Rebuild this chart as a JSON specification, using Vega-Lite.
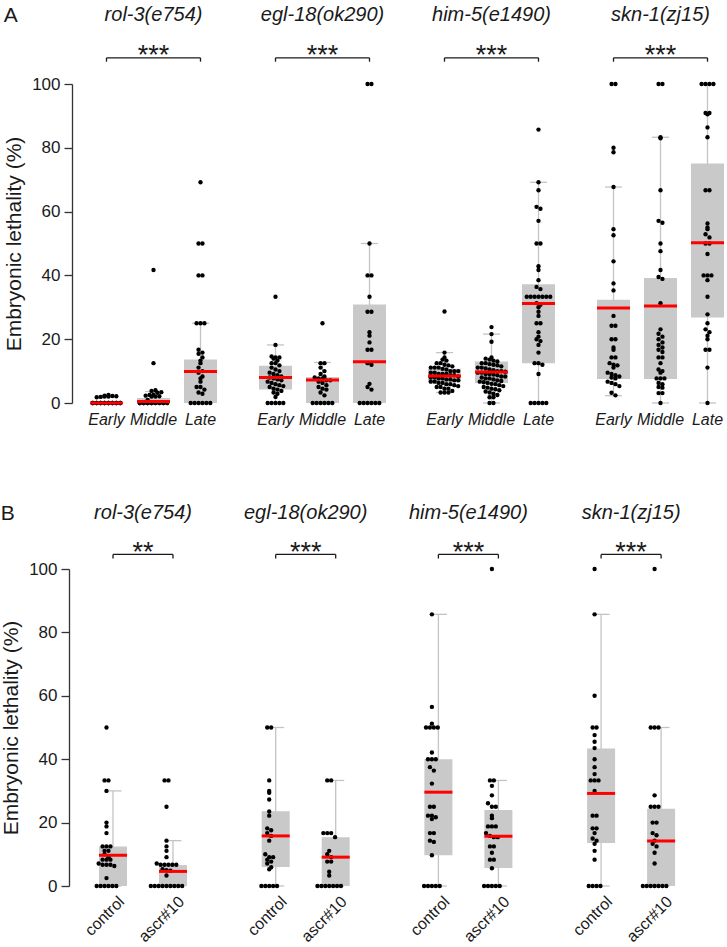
{
"$schema":"https://vega.github.io/schema/vega-lite/v6.json",
"background":"white",
"padding":{"left":0,"top":4,"right":0,"bottom":0},
"spacing":76,
"config":{"font":"Liberation Sans","view":{"stroke":null},"tick":{"opacity":1},
"axisX":{"domain":false,"ticks":false,"labelFontSize":16,"labelPadding":5,"labelColor":"#1a1a1a","grid":false},
"axisY":{"grid":false,"tickSize":8,"labelFontSize":17,"titleFontSize":21,"titleFontWeight":"normal","titlePadding":7,"domainColor":"#333","tickColor":"#333","labelColor":"#1a1a1a","titleColor":"#1a1a1a","labelPadding":4,"domainWidth":1.3,"tickWidth":1.3}},
"vconcat":[
{"data":{"name":"A"},
"title":{"text":"A","anchor":"start","frame":"bounds","fontSize":21,"fontWeight":"normal","baseline":"top","offset":-21,"color":"#1a1a1a"},
"facet":{"column":{"field":"g","sort":["r","e","h","s"],"title":null,"header":{"labels":false}}},
"spacing":28,
"spec":{"width":141,"height":319,"layer":[
{"transform":[{"filter":"isValid(datum.q1)"}],"mark":{"type":"rule","color":"#c4c4c4","strokeWidth":1.3},
"encoding":{"x":{"field":"c","type":"nominal","scale":{"domain":["Early","Middle","Late"],"paddingInner":0,"paddingOuter":0},"axis":{"title":null,"labelFontStyle":"italic","labelAngle":0}},
"y":{"field":"lo","type":"quantitative","scale":{"domain":[0,100],"nice":false},"axis":{"title":"Embryonic lethality (%)","values":[0,20,40,60,80,100],"offset":11}},"y2":{"field":"hi"}}},
{"transform":[{"filter":"isValid(datum.q1)"}],"mark":{"type":"tick","color":"#c4c4c4","size":17,"thickness":1.3,"orient":"horizontal","opacity":1},
"encoding":{"x":{"field":"c","type":"nominal","scale":{"domain":["Early","Middle","Late"],"paddingInner":0,"paddingOuter":0},"axis":{"title":null,"labelFontStyle":"italic","labelAngle":0}},
"y":{"field":"lo","type":"quantitative","scale":{"domain":[0,100],"nice":false},"axis":{"title":"Embryonic lethality (%)","values":[0,20,40,60,80,100],"offset":11}}}},
{"transform":[{"filter":"isValid(datum.q1)"}],"mark":{"type":"tick","color":"#c4c4c4","size":17,"thickness":1.3,"orient":"horizontal","opacity":1},
"encoding":{"x":{"field":"c","type":"nominal","scale":{"domain":["Early","Middle","Late"],"paddingInner":0,"paddingOuter":0},"axis":{"title":null,"labelFontStyle":"italic","labelAngle":0}},
"y":{"field":"hi","type":"quantitative","scale":{"domain":[0,100],"nice":false},"axis":{"title":"Embryonic lethality (%)","values":[0,20,40,60,80,100],"offset":11}}}},
{"transform":[{"filter":"isValid(datum.q1)"}],"mark":{"type":"bar","color":"#c9c9c9","width":33},
"encoding":{"x":{"field":"c","type":"nominal","scale":{"domain":["Early","Middle","Late"],"paddingInner":0,"paddingOuter":0},"axis":{"title":null,"labelFontStyle":"italic","labelAngle":0}},
"y":{"field":"q1","type":"quantitative","scale":{"domain":[0,100],"nice":false},"axis":{"title":"Embryonic lethality (%)","values":[0,20,40,60,80,100],"offset":11}},"y2":{"field":"q3"}}},
{"transform":[{"filter":"isValid(datum.v)"},{"bin":{"step":1.5,"anchor":-0.75},"field":"v","as":"vb"},{"window":[{"op":"row_number","as":"k"}],"groupby":["g","c","vb"]},{"joinaggregate":[{"op":"count","as":"n"}],"groupby":["g","c","vb"]},{"calculate":"datum.n <= 8 ? datum.k - (datum.n + 1) / 2 : ((datum.k - 1) % 8) - 3.5","as":"off"}],
"mark":{"type":"circle","color":"black","size":19,"opacity":1},
"encoding":{"x":{"field":"c","type":"nominal","scale":{"domain":["Early","Middle","Late"],"paddingInner":0,"paddingOuter":0},"axis":{"title":null,"labelFontStyle":"italic","labelAngle":0}},
"xOffset":{"field":"off","type":"quantitative","scale":{"domain":[-4.7,4.7]}},
"y":{"field":"v","type":"quantitative","scale":{"domain":[0,100],"nice":false},"axis":{"title":"Embryonic lethality (%)","values":[0,20,40,60,80,100],"offset":11}}}},
{"transform":[{"filter":"isValid(datum.q1)"}],"mark":{"type":"tick","color":"#ff0000","size":33,"thickness":3,"orient":"horizontal","opacity":1},
"encoding":{"x":{"field":"c","type":"nominal","scale":{"domain":["Early","Middle","Late"],"paddingInner":0,"paddingOuter":0},"axis":{"title":null,"labelFontStyle":"italic","labelAngle":0}},
"y":{"field":"mid","type":"quantitative","scale":{"domain":[0,100],"nice":false},"axis":{"title":"Embryonic lethality (%)","values":[0,20,40,60,80,100],"offset":11}}}},
{"transform":[{"filter":"isValid(datum.name)"}],"mark":{"type":"rule","color":"#1a1a1a","strokeWidth":1.3},
"encoding":{"x":{"datum":"Early","type":"nominal","scale":{"domain":["Early","Middle","Late"],"paddingInner":0,"paddingOuter":0}},"x2":{"datum":"Late"},"y":{"datum":108.2,"type":"quantitative","scale":{"domain":[0,100],"nice":false}}}},
{"transform":[{"filter":"isValid(datum.name)"}],"mark":{"type":"rule","color":"#1a1a1a","strokeWidth":1.3},
"encoding":{"x":{"datum":"Early","type":"nominal","scale":{"domain":["Early","Middle","Late"],"paddingInner":0,"paddingOuter":0}},"y":{"datum":108.2,"type":"quantitative","scale":{"domain":[0,100],"nice":false}},"y2":{"datum":107}}},
{"transform":[{"filter":"isValid(datum.name)"}],"mark":{"type":"rule","color":"#1a1a1a","strokeWidth":1.3},
"encoding":{"x":{"datum":"Late","type":"nominal","scale":{"domain":["Early","Middle","Late"],"paddingInner":0,"paddingOuter":0}},"y":{"datum":108.2,"type":"quantitative","scale":{"domain":[0,100],"nice":false}},"y2":{"datum":107}}},
{"transform":[{"filter":"isValid(datum.name)"}],"mark":{"type":"text","fontSize":27,"baseline":"alphabetic","color":"#1a1a1a"},
"encoding":{"x":{"datum":"Middle","type":"nominal","scale":{"domain":["Early","Middle","Late"],"paddingInner":0,"paddingOuter":0}},"y":{"datum":106.2,"type":"quantitative","scale":{"domain":[0,100],"nice":false}},"text":{"field":"stars"}}},
{"transform":[{"filter":"isValid(datum.name)"}],"mark":{"type":"text","fontSize":20,"fontStyle":"italic","baseline":"middle","color":"#1a1a1a"},
"encoding":{"x":{"datum":"Middle","type":"nominal","scale":{"domain":["Early","Middle","Late"],"paddingInner":0,"paddingOuter":0}},"y":{"datum":121.7,"type":"quantitative","scale":{"domain":[0,100],"nice":false}},"text":{"field":"name"}}}
]}},
{"data":{"name":"B"},
"title":{"text":"B","anchor":"start","frame":"bounds","fontSize":21,"fontWeight":"normal","baseline":"top","offset":-21,"color":"#1a1a1a"},
"facet":{"column":{"field":"g","sort":["r","e","h","s"],"title":null,"header":{"labels":false}}},
"spacing":38.7,
"spec":{"width":120,"height":317,"layer":[
{"transform":[{"filter":"isValid(datum.q1)"}],"mark":{"type":"rule","color":"#c4c4c4","strokeWidth":1.3},
"encoding":{"x":{"field":"c","type":"nominal","scale":{"domain":["control","ascr#10"],"paddingInner":0,"paddingOuter":0},"axis":{"title":null,"labelAngle":-45,"labelFontSize":16,"labelOffset":3,"labelPadding":4}},
"y":{"field":"lo","type":"quantitative","scale":{"domain":[0,100],"nice":false},"axis":{"title":"Embryonic lethality (%)","values":[0,20,40,60,80,100],"offset":14}},"y2":{"field":"hi"}}},
{"transform":[{"filter":"isValid(datum.q1)"}],"mark":{"type":"tick","color":"#c4c4c4","size":17,"thickness":1.3,"orient":"horizontal","opacity":1},
"encoding":{"x":{"field":"c","type":"nominal","scale":{"domain":["control","ascr#10"],"paddingInner":0,"paddingOuter":0},"axis":{"title":null,"labelAngle":-45,"labelFontSize":16,"labelOffset":3,"labelPadding":4}},
"y":{"field":"lo","type":"quantitative","scale":{"domain":[0,100],"nice":false},"axis":{"title":"Embryonic lethality (%)","values":[0,20,40,60,80,100],"offset":14}}}},
{"transform":[{"filter":"isValid(datum.q1)"}],"mark":{"type":"tick","color":"#c4c4c4","size":17,"thickness":1.3,"orient":"horizontal","opacity":1},
"encoding":{"x":{"field":"c","type":"nominal","scale":{"domain":["control","ascr#10"],"paddingInner":0,"paddingOuter":0},"axis":{"title":null,"labelAngle":-45,"labelFontSize":16,"labelOffset":3,"labelPadding":4}},
"y":{"field":"hi","type":"quantitative","scale":{"domain":[0,100],"nice":false},"axis":{"title":"Embryonic lethality (%)","values":[0,20,40,60,80,100],"offset":14}}}},
{"transform":[{"filter":"isValid(datum.q1)"}],"mark":{"type":"bar","color":"#c9c9c9","width":28},
"encoding":{"x":{"field":"c","type":"nominal","scale":{"domain":["control","ascr#10"],"paddingInner":0,"paddingOuter":0},"axis":{"title":null,"labelAngle":-45,"labelFontSize":16,"labelOffset":3,"labelPadding":4}},
"y":{"field":"q1","type":"quantitative","scale":{"domain":[0,100],"nice":false},"axis":{"title":"Embryonic lethality (%)","values":[0,20,40,60,80,100],"offset":14}},"y2":{"field":"q3"}}},
{"transform":[{"filter":"isValid(datum.v)"},{"bin":{"step":1.6,"anchor":-0.8},"field":"v","as":"vb"},{"window":[{"op":"row_number","as":"k"}],"groupby":["g","c","vb"]},{"joinaggregate":[{"op":"count","as":"n"}],"groupby":["g","c","vb"]},{"calculate":"datum.n <= 10 ? datum.k - (datum.n + 1) / 2 : ((datum.k - 1) % 10) - 4.5","as":"off"}],
"mark":{"type":"circle","color":"black","size":19,"opacity":1},
"encoding":{"x":{"field":"c","type":"nominal","scale":{"domain":["control","ascr#10"],"paddingInner":0,"paddingOuter":0},"axis":{"title":null,"labelAngle":-45,"labelFontSize":16,"labelOffset":3,"labelPadding":4}},
"xOffset":{"field":"off","type":"quantitative","scale":{"domain":[-6,6]}},
"y":{"field":"v","type":"quantitative","scale":{"domain":[0,100],"nice":false},"axis":{"title":"Embryonic lethality (%)","values":[0,20,40,60,80,100],"offset":14}}}},
{"transform":[{"filter":"isValid(datum.q1)"}],"mark":{"type":"tick","color":"#ff0000","size":28,"thickness":3,"orient":"horizontal","opacity":1},
"encoding":{"x":{"field":"c","type":"nominal","scale":{"domain":["control","ascr#10"],"paddingInner":0,"paddingOuter":0},"axis":{"title":null,"labelAngle":-45,"labelFontSize":16,"labelOffset":3,"labelPadding":4}},
"y":{"field":"mid","type":"quantitative","scale":{"domain":[0,100],"nice":false},"axis":{"title":"Embryonic lethality (%)","values":[0,20,40,60,80,100],"offset":14}}}},
{"transform":[{"filter":"isValid(datum.name)"}],"mark":{"type":"rule","color":"#1a1a1a","strokeWidth":1.3},
"encoding":{"x":{"datum":"control","type":"nominal","scale":{"domain":["control","ascr#10"],"paddingInner":0,"paddingOuter":0}},"x2":{"datum":"ascr#10"},"y":{"datum":104.6,"type":"quantitative","scale":{"domain":[0,100],"nice":false}}}},
{"transform":[{"filter":"isValid(datum.name)"}],"mark":{"type":"rule","color":"#1a1a1a","strokeWidth":1.3},
"encoding":{"x":{"datum":"control","type":"nominal","scale":{"domain":["control","ascr#10"],"paddingInner":0,"paddingOuter":0}},"y":{"datum":104.6,"type":"quantitative","scale":{"domain":[0,100],"nice":false}},"y2":{"datum":103.3}}},
{"transform":[{"filter":"isValid(datum.name)"}],"mark":{"type":"rule","color":"#1a1a1a","strokeWidth":1.3},
"encoding":{"x":{"datum":"ascr#10","type":"nominal","scale":{"domain":["control","ascr#10"],"paddingInner":0,"paddingOuter":0}},"y":{"datum":104.6,"type":"quantitative","scale":{"domain":[0,100],"nice":false}},"y2":{"datum":103.3}}},
{"transform":[{"filter":"isValid(datum.name)"}],"mark":{"type":"text","fontSize":27,"baseline":"alphabetic","color":"#1a1a1a"},
"encoding":{"x":{"datum":"control","type":"nominal","bandPosition":1,"scale":{"domain":["control","ascr#10"],"paddingInner":0,"paddingOuter":0}},"y":{"datum":102.6,"type":"quantitative","scale":{"domain":[0,100],"nice":false}},"text":{"field":"stars"}}},
{"transform":[{"filter":"isValid(datum.name)"}],"mark":{"type":"text","fontSize":20,"fontStyle":"italic","baseline":"middle","color":"#1a1a1a"},
"encoding":{"x":{"datum":"control","type":"nominal","bandPosition":1,"scale":{"domain":["control","ascr#10"],"paddingInner":0,"paddingOuter":0}},"y":{"datum":117.6,"type":"quantitative","scale":{"domain":[0,100],"nice":false}},"text":{"field":"name"}}}
]}}
],
"datasets":{
"A":[
{"g":"r","name":"rol-3(e754)","stars":"***"},{"g":"e","name":"egl-18(ok290)","stars":"***"},{"g":"h","name":"him-5(e1490)","stars":"***"},{"g":"s","name":"skn-1(zj15)","stars":"***"},
{"g":"r","c":"Early","q1":0,"mid":0,"q3":0.3,"lo":0,"hi":0},
{"g":"r","c":"Middle","q1":0,"mid":0.5,"q3":1.6,"lo":0,"hi":3.6},
{"g":"r","c":"Late","q1":0,"mid":9.9,"q3":13.6,"lo":0,"hi":25},
{"g":"e","c":"Early","q1":4.2,"mid":8.0,"q3":11.7,"lo":0,"hi":18.2},
{"g":"e","c":"Middle","q1":0,"mid":7.2,"q3":8.15,"lo":0,"hi":12.7},
{"g":"e","c":"Late","q1":0,"mid":12.9,"q3":30.9,"lo":0,"hi":50},
{"g":"h","c":"Early","q1":6.5,"mid":8.5,"q3":10.7,"lo":3.3,"hi":15.8},
{"g":"h","c":"Middle","q1":6.3,"mid":9.7,"q3":13.0,"lo":0,"hi":21.6},
{"g":"h","c":"Late","q1":12.5,"mid":31.2,"q3":37.2,"lo":0,"hi":69.2},
{"g":"s","c":"Early","q1":7.5,"mid":29.8,"q3":32.4,"lo":2.3,"hi":67.7},
{"g":"s","c":"Middle","q1":7.5,"mid":30.4,"q3":39.2,"lo":0,"hi":83.3},
{"g":"s","c":"Late","q1":26.8,"mid":50.2,"q3":75.1,"lo":0,"hi":100},
{"g":"r","c":"Early","v":0},{"g":"r","c":"Early","v":0},{"g":"r","c":"Early","v":0},{"g":"r","c":"Early","v":0},{"g":"r","c":"Early","v":0},{"g":"r","c":"Early","v":0},{"g":"r","c":"Early","v":0},{"g":"r","c":"Early","v":0},{"g":"r","c":"Early","v":0},{"g":"r","c":"Early","v":0},{"g":"r","c":"Early","v":0},{"g":"r","c":"Early","v":0},{"g":"r","c":"Early","v":0},{"g":"r","c":"Early","v":0},{"g":"r","c":"Early","v":0},{"g":"r","c":"Early","v":0},{"g":"r","c":"Early","v":0},{"g":"r","c":"Early","v":0},{"g":"r","c":"Early","v":0},{"g":"r","c":"Early","v":0},{"g":"r","c":"Early","v":0},{"g":"r","c":"Early","v":0},{"g":"r","c":"Early","v":0},{"g":"r","c":"Early","v":0},
{"g":"r","c":"Early","v":1.8},{"g":"r","c":"Early","v":1.9},{"g":"r","c":"Early","v":2},{"g":"r","c":"Early","v":2},{"g":"r","c":"Early","v":2.2},{"g":"r","c":"Early","v":2.3},{"g":"r","c":"Early","v":2.5},{"g":"r","c":"Early","v":2.1},
{"g":"r","c":"Middle","v":0},{"g":"r","c":"Middle","v":0},{"g":"r","c":"Middle","v":0},{"g":"r","c":"Middle","v":0},{"g":"r","c":"Middle","v":0},{"g":"r","c":"Middle","v":0},{"g":"r","c":"Middle","v":0},{"g":"r","c":"Middle","v":0},{"g":"r","c":"Middle","v":0},{"g":"r","c":"Middle","v":0},{"g":"r","c":"Middle","v":0},{"g":"r","c":"Middle","v":0},{"g":"r","c":"Middle","v":0},{"g":"r","c":"Middle","v":0},{"g":"r","c":"Middle","v":0},{"g":"r","c":"Middle","v":0},{"g":"r","c":"Middle","v":0},{"g":"r","c":"Middle","v":0},{"g":"r","c":"Middle","v":0},{"g":"r","c":"Middle","v":0},
{"g":"r","c":"Middle","v":1},{"g":"r","c":"Middle","v":2},{"g":"r","c":"Middle","v":2},{"g":"r","c":"Middle","v":2.1},{"g":"r","c":"Middle","v":2.3},{"g":"r","c":"Middle","v":2.5},{"g":"r","c":"Middle","v":2.6},{"g":"r","c":"Middle","v":3.2},{"g":"r","c":"Middle","v":3.4},{"g":"r","c":"Middle","v":3.8},{"g":"r","c":"Middle","v":4},{"g":"r","c":"Middle","v":12.5},{"g":"r","c":"Middle","v":41.7},
{"g":"r","c":"Late","v":69.2},{"g":"r","c":"Late","v":50},{"g":"r","c":"Late","v":50},{"g":"r","c":"Late","v":40},{"g":"r","c":"Late","v":40},{"g":"r","c":"Late","v":25},{"g":"r","c":"Late","v":25},{"g":"r","c":"Late","v":25},{"g":"r","c":"Late","v":16.7},{"g":"r","c":"Late","v":15.8},{"g":"r","c":"Late","v":15.4},{"g":"r","c":"Late","v":14.3},{"g":"r","c":"Late","v":13.3},{"g":"r","c":"Late","v":12.5},{"g":"r","c":"Late","v":11.1},{"g":"r","c":"Late","v":10},{"g":"r","c":"Late","v":9.5},{"g":"r","c":"Late","v":8.3},{"g":"r","c":"Late","v":7.7},{"g":"r","c":"Late","v":6.7},{"g":"r","c":"Late","v":5},{"g":"r","c":"Late","v":5},{"g":"r","c":"Late","v":4.2},{"g":"r","c":"Late","v":3.3},{"g":"r","c":"Late","v":2.9},{"g":"r","c":"Late","v":0},{"g":"r","c":"Late","v":0},{"g":"r","c":"Late","v":0},{"g":"r","c":"Late","v":0},{"g":"r","c":"Late","v":0},{"g":"r","c":"Late","v":0},
{"g":"e","c":"Early","v":33.3},{"g":"e","c":"Early","v":18.2},{"g":"e","c":"Early","v":14.6},{"g":"e","c":"Early","v":14.3},{"g":"e","c":"Early","v":14.3},{"g":"e","c":"Early","v":13.9},{"g":"e","c":"Early","v":13.3},{"g":"e","c":"Early","v":12.5},{"g":"e","c":"Early","v":12.5},{"g":"e","c":"Early","v":11.8},{"g":"e","c":"Early","v":11.1},{"g":"e","c":"Early","v":10.5},{"g":"e","c":"Early","v":10},{"g":"e","c":"Early","v":9.5},{"g":"e","c":"Early","v":9.1},{"g":"e","c":"Early","v":8.7},{"g":"e","c":"Early","v":8.3},{"g":"e","c":"Early","v":8},{"g":"e","c":"Early","v":7.7},{"g":"e","c":"Early","v":7.4},{"g":"e","c":"Early","v":7.1},{"g":"e","c":"Early","v":6.7},{"g":"e","c":"Early","v":6.3},{"g":"e","c":"Early","v":5.9},{"g":"e","c":"Early","v":5.6},{"g":"e","c":"Early","v":5.3},{"g":"e","c":"Early","v":5},{"g":"e","c":"Early","v":4.5},{"g":"e","c":"Early","v":4.2},{"g":"e","c":"Early","v":3.8},{"g":"e","c":"Early","v":3.3},{"g":"e","c":"Early","v":2.9},{"g":"e","c":"Early","v":1.9},{"g":"e","c":"Early","v":0},{"g":"e","c":"Early","v":0},{"g":"e","c":"Early","v":0},{"g":"e","c":"Early","v":0},{"g":"e","c":"Early","v":0},
{"g":"e","c":"Middle","v":25},{"g":"e","c":"Middle","v":12.5},{"g":"e","c":"Middle","v":12.5},{"g":"e","c":"Middle","v":11.1},{"g":"e","c":"Middle","v":10},{"g":"e","c":"Middle","v":9.1},{"g":"e","c":"Middle","v":8.3},{"g":"e","c":"Middle","v":8},{"g":"e","c":"Middle","v":7.7},{"g":"e","c":"Middle","v":7.7},{"g":"e","c":"Middle","v":7.1},{"g":"e","c":"Middle","v":7.1},{"g":"e","c":"Middle","v":6.7},{"g":"e","c":"Middle","v":6.3},{"g":"e","c":"Middle","v":5.6},{"g":"e","c":"Middle","v":5},{"g":"e","c":"Middle","v":4.5},{"g":"e","c":"Middle","v":4.2},{"g":"e","c":"Middle","v":3.3},{"g":"e","c":"Middle","v":2.4},{"g":"e","c":"Middle","v":0},{"g":"e","c":"Middle","v":0},{"g":"e","c":"Middle","v":0},{"g":"e","c":"Middle","v":0},{"g":"e","c":"Middle","v":0},{"g":"e","c":"Middle","v":0},
{"g":"e","c":"Late","v":100},{"g":"e","c":"Late","v":100},{"g":"e","c":"Late","v":50},{"g":"e","c":"Late","v":40},{"g":"e","c":"Late","v":40},{"g":"e","c":"Late","v":33.3},{"g":"e","c":"Late","v":28.6},{"g":"e","c":"Late","v":28.6},{"g":"e","c":"Late","v":22.2},{"g":"e","c":"Late","v":21.1},{"g":"e","c":"Late","v":19},{"g":"e","c":"Late","v":16.7},{"g":"e","c":"Late","v":16.7},{"g":"e","c":"Late","v":12.5},{"g":"e","c":"Late","v":12},{"g":"e","c":"Late","v":6},{"g":"e","c":"Late","v":5},{"g":"e","c":"Late","v":4.2},{"g":"e","c":"Late","v":0},{"g":"e","c":"Late","v":0},{"g":"e","c":"Late","v":0},{"g":"e","c":"Late","v":0},{"g":"e","c":"Late","v":0},{"g":"e","c":"Late","v":0},
{"g":"h","c":"Early","v":28.7},{"g":"h","c":"Early","v":15.8},{"g":"h","c":"Early","v":14.3},{"g":"h","c":"Early","v":13.6},{"g":"h","c":"Early","v":13.3},{"g":"h","c":"Early","v":12.5},{"g":"h","c":"Early","v":12.5},{"g":"h","c":"Early","v":12},{"g":"h","c":"Early","v":11.8},{"g":"h","c":"Early","v":11.5},{"g":"h","c":"Early","v":11.1},{"g":"h","c":"Early","v":11.1},{"g":"h","c":"Early","v":11.1},{"g":"h","c":"Early","v":10.7},{"g":"h","c":"Early","v":10.5},{"g":"h","c":"Early","v":10},{"g":"h","c":"Early","v":10},{"g":"h","c":"Early","v":10},{"g":"h","c":"Early","v":9.5},{"g":"h","c":"Early","v":9.5},{"g":"h","c":"Early","v":9.1},{"g":"h","c":"Early","v":9.1},{"g":"h","c":"Early","v":9.1},{"g":"h","c":"Early","v":8.7},{"g":"h","c":"Early","v":8.7},{"g":"h","c":"Early","v":8.3},{"g":"h","c":"Early","v":8.3},{"g":"h","c":"Early","v":8.3},{"g":"h","c":"Early","v":8},{"g":"h","c":"Early","v":8},{"g":"h","c":"Early","v":7.7},{"g":"h","c":"Early","v":7.7},{"g":"h","c":"Early","v":7.4},{"g":"h","c":"Early","v":7.4},{"g":"h","c":"Early","v":7.1},{"g":"h","c":"Early","v":7.1},{"g":"h","c":"Early","v":6.7},{"g":"h","c":"Early","v":6.7},{"g":"h","c":"Early","v":6.3},{"g":"h","c":"Early","v":6.3},{"g":"h","c":"Early","v":5.9},{"g":"h","c":"Early","v":5.9},{"g":"h","c":"Early","v":5.6},{"g":"h","c":"Early","v":5.3},{"g":"h","c":"Early","v":5},{"g":"h","c":"Early","v":5},{"g":"h","c":"Early","v":4.5},{"g":"h","c":"Early","v":4.5},{"g":"h","c":"Early","v":3.8},{"g":"h","c":"Early","v":3.3},{"g":"h","c":"Early","v":3.3},{"g":"h","c":"Early","v":3.3},
{"g":"h","c":"Middle","v":23.8},{"g":"h","c":"Middle","v":21.6},{"g":"h","c":"Middle","v":19.2},{"g":"h","c":"Middle","v":14.3},{"g":"h","c":"Middle","v":13.9},{"g":"h","c":"Middle","v":13.6},{"g":"h","c":"Middle","v":13.3},{"g":"h","c":"Middle","v":13},{"g":"h","c":"Middle","v":12.5},{"g":"h","c":"Middle","v":12.5},{"g":"h","c":"Middle","v":12.2},{"g":"h","c":"Middle","v":12},{"g":"h","c":"Middle","v":11.8},{"g":"h","c":"Middle","v":11.5},{"g":"h","c":"Middle","v":11.1},{"g":"h","c":"Middle","v":11.1},{"g":"h","c":"Middle","v":10.8},{"g":"h","c":"Middle","v":10.5},{"g":"h","c":"Middle","v":10.3},{"g":"h","c":"Middle","v":10},{"g":"h","c":"Middle","v":10},{"g":"h","c":"Middle","v":9.8},{"g":"h","c":"Middle","v":9.5},{"g":"h","c":"Middle","v":9.5},{"g":"h","c":"Middle","v":9.1},{"g":"h","c":"Middle","v":9.1},{"g":"h","c":"Middle","v":8.9},{"g":"h","c":"Middle","v":8.7},{"g":"h","c":"Middle","v":8.3},{"g":"h","c":"Middle","v":8.3},{"g":"h","c":"Middle","v":8},{"g":"h","c":"Middle","v":7.7},{"g":"h","c":"Middle","v":7.7},{"g":"h","c":"Middle","v":7.4},{"g":"h","c":"Middle","v":7.1},{"g":"h","c":"Middle","v":6.9},{"g":"h","c":"Middle","v":6.7},{"g":"h","c":"Middle","v":6.5},{"g":"h","c":"Middle","v":6.3},{"g":"h","c":"Middle","v":6},{"g":"h","c":"Middle","v":5.9},{"g":"h","c":"Middle","v":5.6},{"g":"h","c":"Middle","v":5.3},{"g":"h","c":"Middle","v":5},{"g":"h","c":"Middle","v":4.8},{"g":"h","c":"Middle","v":4.5},{"g":"h","c":"Middle","v":4.3},{"g":"h","c":"Middle","v":4},{"g":"h","c":"Middle","v":3.6},{"g":"h","c":"Middle","v":3.3},{"g":"h","c":"Middle","v":2.9},{"g":"h","c":"Middle","v":2.5},{"g":"h","c":"Middle","v":1.8},{"g":"h","c":"Middle","v":1.8},{"g":"h","c":"Middle","v":0},{"g":"h","c":"Middle","v":0},
{"g":"h","c":"Late","v":85.7},{"g":"h","c":"Late","v":69.2},{"g":"h","c":"Late","v":66.7},{"g":"h","c":"Late","v":61.5},{"g":"h","c":"Late","v":60.9},{"g":"h","c":"Late","v":57.1},{"g":"h","c":"Late","v":50},{"g":"h","c":"Late","v":50},{"g":"h","c":"Late","v":42.9},{"g":"h","c":"Late","v":41.7},{"g":"h","c":"Late","v":38.5},{"g":"h","c":"Late","v":36.4},{"g":"h","c":"Late","v":35.7},{"g":"h","c":"Late","v":33.3},{"g":"h","c":"Late","v":33.3},{"g":"h","c":"Late","v":33.3},{"g":"h","c":"Late","v":33.3},{"g":"h","c":"Late","v":33.3},{"g":"h","c":"Late","v":33.3},{"g":"h","c":"Late","v":33.3},{"g":"h","c":"Late","v":31.3},{"g":"h","c":"Late","v":30.8},{"g":"h","c":"Late","v":30},{"g":"h","c":"Late","v":28.6},{"g":"h","c":"Late","v":27.3},{"g":"h","c":"Late","v":25},{"g":"h","c":"Late","v":25},{"g":"h","c":"Late","v":22.2},{"g":"h","c":"Late","v":20.8},{"g":"h","c":"Late","v":20},{"g":"h","c":"Late","v":19.4},{"g":"h","c":"Late","v":18.2},{"g":"h","c":"Late","v":15.8},{"g":"h","c":"Late","v":12.5},{"g":"h","c":"Late","v":12.5},{"g":"h","c":"Late","v":12},{"g":"h","c":"Late","v":9.1},{"g":"h","c":"Late","v":0},{"g":"h","c":"Late","v":0},{"g":"h","c":"Late","v":0},{"g":"h","c":"Late","v":0},{"g":"h","c":"Late","v":0},
{"g":"s","c":"Early","v":100},{"g":"s","c":"Early","v":100},{"g":"s","c":"Early","v":80},{"g":"s","c":"Early","v":78.6},{"g":"s","c":"Early","v":67.7},{"g":"s","c":"Early","v":54.5},{"g":"s","c":"Early","v":52.6},{"g":"s","c":"Early","v":44.4},{"g":"s","c":"Early","v":37.5},{"g":"s","c":"Early","v":35.3},{"g":"s","c":"Early","v":27.3},{"g":"s","c":"Early","v":24.2},{"g":"s","c":"Early","v":24.2},{"g":"s","c":"Early","v":20},{"g":"s","c":"Early","v":20},{"g":"s","c":"Early","v":17.4},{"g":"s","c":"Early","v":16.7},{"g":"s","c":"Early","v":14.3},{"g":"s","c":"Early","v":14.3},{"g":"s","c":"Early","v":12.5},{"g":"s","c":"Early","v":12},{"g":"s","c":"Early","v":11.8},{"g":"s","c":"Early","v":11.1},{"g":"s","c":"Early","v":9.5},{"g":"s","c":"Early","v":9.1},{"g":"s","c":"Early","v":8.7},{"g":"s","c":"Early","v":8.3},{"g":"s","c":"Early","v":8},{"g":"s","c":"Early","v":7.7},{"g":"s","c":"Early","v":6.7},{"g":"s","c":"Early","v":6.3},{"g":"s","c":"Early","v":5.9},{"g":"s","c":"Early","v":5.3},{"g":"s","c":"Early","v":3.2},{"g":"s","c":"Early","v":2.4},
{"g":"s","c":"Middle","v":100},{"g":"s","c":"Middle","v":100},{"g":"s","c":"Middle","v":83.3},{"g":"s","c":"Middle","v":83},{"g":"s","c":"Middle","v":66.7},{"g":"s","c":"Middle","v":57.1},{"g":"s","c":"Middle","v":56.5},{"g":"s","c":"Middle","v":50},{"g":"s","c":"Middle","v":47.6},{"g":"s","c":"Middle","v":41.7},{"g":"s","c":"Middle","v":39.5},{"g":"s","c":"Middle","v":38.9},{"g":"s","c":"Middle","v":31.3},{"g":"s","c":"Middle","v":23.1},{"g":"s","c":"Middle","v":21.7},{"g":"s","c":"Middle","v":20.8},{"g":"s","c":"Middle","v":20},{"g":"s","c":"Middle","v":19},{"g":"s","c":"Middle","v":18.2},{"g":"s","c":"Middle","v":17.4},{"g":"s","c":"Middle","v":16.7},{"g":"s","c":"Middle","v":16},{"g":"s","c":"Middle","v":14.3},{"g":"s","c":"Middle","v":14.3},{"g":"s","c":"Middle","v":12.5},{"g":"s","c":"Middle","v":10.5},{"g":"s","c":"Middle","v":10},{"g":"s","c":"Middle","v":9.5},{"g":"s","c":"Middle","v":7.7},{"g":"s","c":"Middle","v":7.7},{"g":"s","c":"Middle","v":7.7},{"g":"s","c":"Middle","v":6.3},{"g":"s","c":"Middle","v":5.9},{"g":"s","c":"Middle","v":5},{"g":"s","c":"Middle","v":4.8},{"g":"s","c":"Middle","v":3.1},{"g":"s","c":"Middle","v":3.1},{"g":"s","c":"Middle","v":0},
{"g":"s","c":"Late","v":100},{"g":"s","c":"Late","v":100},{"g":"s","c":"Late","v":100},{"g":"s","c":"Late","v":100},{"g":"s","c":"Late","v":90.9},{"g":"s","c":"Late","v":90.9},{"g":"s","c":"Late","v":90.5},{"g":"s","c":"Late","v":86.4},{"g":"s","c":"Late","v":83.3},{"g":"s","c":"Late","v":66.7},{"g":"s","c":"Late","v":66.7},{"g":"s","c":"Late","v":56.3},{"g":"s","c":"Late","v":55},{"g":"s","c":"Late","v":54.5},{"g":"s","c":"Late","v":52.9},{"g":"s","c":"Late","v":51.9},{"g":"s","c":"Late","v":50},{"g":"s","c":"Late","v":50},{"g":"s","c":"Late","v":46.7},{"g":"s","c":"Late","v":40},{"g":"s","c":"Late","v":40},{"g":"s","c":"Late","v":40},{"g":"s","c":"Late","v":38.5},{"g":"s","c":"Late","v":33.3},{"g":"s","c":"Late","v":27.8},{"g":"s","c":"Late","v":25},{"g":"s","c":"Late","v":23.1},{"g":"s","c":"Late","v":22.2},{"g":"s","c":"Late","v":21.1},{"g":"s","c":"Late","v":20},{"g":"s","c":"Late","v":16.7},{"g":"s","c":"Late","v":16.7},{"g":"s","c":"Late","v":11.1},{"g":"s","c":"Late","v":0}
],
"B":[
{"g":"r","name":"rol-3(e754)","stars":"**"},{"g":"e","name":"egl-18(ok290)","stars":"***"},{"g":"h","name":"him-5(e1490)","stars":"***"},{"g":"s","name":"skn-1(zj15)","stars":"***"},
{"g":"r","c":"control","q1":0,"mid":9.7,"q3":12.5,"lo":0,"hi":30},
{"g":"r","c":"ascr#10","q1":0,"mid":4.6,"q3":6.6,"lo":0,"hi":14.3},
{"g":"e","c":"control","q1":6.0,"mid":15.8,"q3":23.6,"lo":0,"hi":50},
{"g":"e","c":"ascr#10","q1":0,"mid":9.1,"q3":15.4,"lo":0,"hi":33.3},
{"g":"h","c":"control","q1":9.7,"mid":29.6,"q3":40,"lo":0,"hi":85.7},
{"g":"h","c":"ascr#10","q1":5.7,"mid":15.7,"q3":24.0,"lo":0,"hi":33.3},
{"g":"s","c":"control","q1":13.6,"mid":29.2,"q3":43.4,"lo":0,"hi":85.7},
{"g":"s","c":"ascr#10","q1":0,"mid":14.2,"q3":24.4,"lo":0,"hi":50},
{"g":"r","c":"control","v":50},{"g":"r","c":"control","v":33.3},{"g":"r","c":"control","v":33.3},{"g":"r","c":"control","v":30},{"g":"r","c":"control","v":20},{"g":"r","c":"control","v":18.8},{"g":"r","c":"control","v":16.7},{"g":"r","c":"control","v":12.5},{"g":"r","c":"control","v":12.5},{"g":"r","c":"control","v":12.5},{"g":"r","c":"control","v":11.1},{"g":"r","c":"control","v":11.1},{"g":"r","c":"control","v":10},{"g":"r","c":"control","v":9.1},{"g":"r","c":"control","v":8.3},{"g":"r","c":"control","v":8.3},{"g":"r","c":"control","v":8.3},{"g":"r","c":"control","v":7.1},{"g":"r","c":"control","v":6.7},{"g":"r","c":"control","v":6.7},{"g":"r","c":"control","v":6.7},{"g":"r","c":"control","v":6.3},{"g":"r","c":"control","v":2.5},{"g":"r","c":"control","v":0},{"g":"r","c":"control","v":0},{"g":"r","c":"control","v":0},{"g":"r","c":"control","v":0},{"g":"r","c":"control","v":0},{"g":"r","c":"control","v":0},
{"g":"r","c":"ascr#10","v":33.3},{"g":"r","c":"ascr#10","v":33.3},{"g":"r","c":"ascr#10","v":25},{"g":"r","c":"ascr#10","v":14.3},{"g":"r","c":"ascr#10","v":12.5},{"g":"r","c":"ascr#10","v":11.1},{"g":"r","c":"ascr#10","v":9.1},{"g":"r","c":"ascr#10","v":7.1},{"g":"r","c":"ascr#10","v":6.7},{"g":"r","c":"ascr#10","v":6.7},{"g":"r","c":"ascr#10","v":6.7},{"g":"r","c":"ascr#10","v":6.7},{"g":"r","c":"ascr#10","v":6.7},{"g":"r","c":"ascr#10","v":5.3},{"g":"r","c":"ascr#10","v":5},{"g":"r","c":"ascr#10","v":4.8},{"g":"r","c":"ascr#10","v":3.3},{"g":"r","c":"ascr#10","v":0},{"g":"r","c":"ascr#10","v":0},{"g":"r","c":"ascr#10","v":0},{"g":"r","c":"ascr#10","v":0},{"g":"r","c":"ascr#10","v":0},{"g":"r","c":"ascr#10","v":0},{"g":"r","c":"ascr#10","v":0},{"g":"r","c":"ascr#10","v":0},{"g":"r","c":"ascr#10","v":0},
{"g":"e","c":"control","v":50},{"g":"e","c":"control","v":50},{"g":"e","c":"control","v":33.3},{"g":"e","c":"control","v":30},{"g":"e","c":"control","v":29.4},{"g":"e","c":"control","v":27.3},{"g":"e","c":"control","v":23.5},{"g":"e","c":"control","v":22.2},{"g":"e","c":"control","v":18.2},{"g":"e","c":"control","v":17.6},{"g":"e","c":"control","v":16.7},{"g":"e","c":"control","v":15.8},{"g":"e","c":"control","v":14.3},{"g":"e","c":"control","v":10},{"g":"e","c":"control","v":9.1},{"g":"e","c":"control","v":9.1},{"g":"e","c":"control","v":8.3},{"g":"e","c":"control","v":7.7},{"g":"e","c":"control","v":7.1},{"g":"e","c":"control","v":5.9},{"g":"e","c":"control","v":5.3},{"g":"e","c":"control","v":0},{"g":"e","c":"control","v":0},{"g":"e","c":"control","v":0},{"g":"e","c":"control","v":0},{"g":"e","c":"control","v":0},
{"g":"e","c":"ascr#10","v":33.3},{"g":"e","c":"ascr#10","v":33.3},{"g":"e","c":"ascr#10","v":16.7},{"g":"e","c":"ascr#10","v":16.7},{"g":"e","c":"ascr#10","v":16.7},{"g":"e","c":"ascr#10","v":15.4},{"g":"e","c":"ascr#10","v":11.1},{"g":"e","c":"ascr#10","v":10},{"g":"e","c":"ascr#10","v":9.1},{"g":"e","c":"ascr#10","v":7.7},{"g":"e","c":"ascr#10","v":7.7},{"g":"e","c":"ascr#10","v":4.5},{"g":"e","c":"ascr#10","v":3.3},{"g":"e","c":"ascr#10","v":0},{"g":"e","c":"ascr#10","v":0},{"g":"e","c":"ascr#10","v":0},{"g":"e","c":"ascr#10","v":0},{"g":"e","c":"ascr#10","v":0},{"g":"e","c":"ascr#10","v":0},{"g":"e","c":"ascr#10","v":0},
{"g":"h","c":"control","v":85.7},{"g":"h","c":"control","v":56.5},{"g":"h","c":"control","v":51.2},{"g":"h","c":"control","v":50},{"g":"h","c":"control","v":50},{"g":"h","c":"control","v":50},{"g":"h","c":"control","v":50},{"g":"h","c":"control","v":42.1},{"g":"h","c":"control","v":40},{"g":"h","c":"control","v":40},{"g":"h","c":"control","v":40},{"g":"h","c":"control","v":37.5},{"g":"h","c":"control","v":36.4},{"g":"h","c":"control","v":32.3},{"g":"h","c":"control","v":25},{"g":"h","c":"control","v":25},{"g":"h","c":"control","v":22.2},{"g":"h","c":"control","v":22.2},{"g":"h","c":"control","v":21.7},{"g":"h","c":"control","v":21.1},{"g":"h","c":"control","v":16.7},{"g":"h","c":"control","v":16.7},{"g":"h","c":"control","v":14.3},{"g":"h","c":"control","v":13.9},{"g":"h","c":"control","v":9.7},{"g":"h","c":"control","v":0},{"g":"h","c":"control","v":0},{"g":"h","c":"control","v":0},{"g":"h","c":"control","v":0},{"g":"h","c":"control","v":0},
{"g":"h","c":"ascr#10","v":100},{"g":"h","c":"ascr#10","v":33.3},{"g":"h","c":"ascr#10","v":33.3},{"g":"h","c":"ascr#10","v":31.6},{"g":"h","c":"ascr#10","v":28.6},{"g":"h","c":"ascr#10","v":26.1},{"g":"h","c":"ascr#10","v":25},{"g":"h","c":"ascr#10","v":25},{"g":"h","c":"ascr#10","v":22.2},{"g":"h","c":"ascr#10","v":21.4},{"g":"h","c":"ascr#10","v":18.8},{"g":"h","c":"ascr#10","v":18.8},{"g":"h","c":"ascr#10","v":18.8},{"g":"h","c":"ascr#10","v":16.7},{"g":"h","c":"ascr#10","v":15.8},{"g":"h","c":"ascr#10","v":15.4},{"g":"h","c":"ascr#10","v":15.4},{"g":"h","c":"ascr#10","v":12.5},{"g":"h","c":"ascr#10","v":12.5},{"g":"h","c":"ascr#10","v":10.5},{"g":"h","c":"ascr#10","v":8.3},{"g":"h","c":"ascr#10","v":8.3},{"g":"h","c":"ascr#10","v":5.6},{"g":"h","c":"ascr#10","v":0},{"g":"h","c":"ascr#10","v":0},{"g":"h","c":"ascr#10","v":0},{"g":"h","c":"ascr#10","v":0},{"g":"h","c":"ascr#10","v":0},
{"g":"s","c":"control","v":100},{"g":"s","c":"control","v":85.7},{"g":"s","c":"control","v":60},{"g":"s","c":"control","v":50},{"g":"s","c":"control","v":50},{"g":"s","c":"control","v":47.6},{"g":"s","c":"control","v":45.5},{"g":"s","c":"control","v":43.5},{"g":"s","c":"control","v":40},{"g":"s","c":"control","v":37.5},{"g":"s","c":"control","v":35.3},{"g":"s","c":"control","v":33.3},{"g":"s","c":"control","v":33.3},{"g":"s","c":"control","v":33.3},{"g":"s","c":"control","v":30},{"g":"s","c":"control","v":22.2},{"g":"s","c":"control","v":22.2},{"g":"s","c":"control","v":18.2},{"g":"s","c":"control","v":18.2},{"g":"s","c":"control","v":16.7},{"g":"s","c":"control","v":15},{"g":"s","c":"control","v":14.3},{"g":"s","c":"control","v":13.3},{"g":"s","c":"control","v":11.1},{"g":"s","c":"control","v":8.3},{"g":"s","c":"control","v":0},{"g":"s","c":"control","v":0},{"g":"s","c":"control","v":0},{"g":"s","c":"control","v":0},
{"g":"s","c":"ascr#10","v":100},{"g":"s","c":"ascr#10","v":50},{"g":"s","c":"ascr#10","v":50},{"g":"s","c":"ascr#10","v":50},{"g":"s","c":"ascr#10","v":28.6},{"g":"s","c":"ascr#10","v":25},{"g":"s","c":"ascr#10","v":25},{"g":"s","c":"ascr#10","v":25},{"g":"s","c":"ascr#10","v":20},{"g":"s","c":"ascr#10","v":20},{"g":"s","c":"ascr#10","v":16.7},{"g":"s","c":"ascr#10","v":16},{"g":"s","c":"ascr#10","v":14.3},{"g":"s","c":"ascr#10","v":13.3},{"g":"s","c":"ascr#10","v":12.5},{"g":"s","c":"ascr#10","v":10.5},{"g":"s","c":"ascr#10","v":7.1},{"g":"s","c":"ascr#10","v":0},{"g":"s","c":"ascr#10","v":0},{"g":"s","c":"ascr#10","v":0},{"g":"s","c":"ascr#10","v":0},{"g":"s","c":"ascr#10","v":0},{"g":"s","c":"ascr#10","v":0},{"g":"s","c":"ascr#10","v":0}
]}
}
